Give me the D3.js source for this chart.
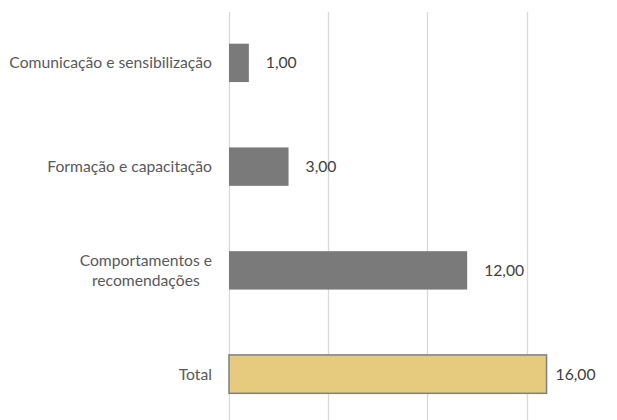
<!DOCTYPE html>
<html>
<head>
<meta charset="utf-8">
<script src="https://cdn.jsdelivr.net/npm/d3@7"></script>
<style>
  body { margin: 0; background: #fff; }
  svg { display: block; font-family: Lato, "Open Sans", sans-serif; }
</style>
</head>
<body>
<svg id="chart" width="617" height="420"></svg>
<script>
// Chart data
const categories = [
    ["Comunicação e sensibilização"],
    ["Formação e capacitação"],
    ["Comportamentos e", "recomendações"],
    ["Total"]
];
const values = [1, 3, 12, 16];
const valueLabels = ["1,00", "3,00", "12,00", "16,00"];
const gridTicks = [0, 5, 10, 15];

const fontSize = 15.7;
const svg = d3.select("#chart");

const x = d3.scaleLinear().domain([0, 15]).range([229, 526.7]);
const y = d3.scaleBand()
    .domain(d3.range(categories.length))
    .range([11, 426])
    .paddingInner(0.63)
    .paddingOuter(0.315);

// vertical gridlines
svg.append("g")
    .selectAll("line")
    .data(gridTicks)
    .join("line")
    .attr("x1", d => Math.round(x(d)) + 0.5)
    .attr("x2", d => Math.round(x(d)) + 0.5)
    .attr("y1", 12)
    .attr("y2", 430)
    .attr("stroke", "#d9d9d9")
    .attr("stroke-width", 1.3);

// bars
svg.append("g")
    .selectAll("rect")
    .data(values)
    .join("rect")
    .attr("x", x(0))
    .attr("y", (d, i) => y(i))
    .attr("width", d => x(d) - x(0))
    .attr("height", y.bandwidth())
    .attr("fill", (d, i) => i === values.length - 1 ? "#e6ca7e" : "#7a7a7a")
    .attr("stroke", (d, i) => i === values.length - 1 ? "#7f7f7f" : "none")
    .attr("stroke-width", 1.5);

// value labels
svg.append("g")
    .selectAll("text")
    .data(values)
    .join("text")
    .attr("x", (d, i) => x(d) + (i === values.length - 1 ? 9 : 17))
    .attr("y", (d, i) => y(i) + y.bandwidth() / 2)
    .attr("dy", "0.35em")
    .attr("fill", "#404040")
    .attr("font-size", fontSize)
    .text((d, i) => valueLabels[i]);

// category labels
const cat = svg.append("g")
    .selectAll("text")
    .data(categories)
    .join("text")
    .attr("text-anchor", "middle")
    .attr("fill", "#595959")
    .attr("font-size", fontSize)
    .attr("x", (d, i) => 212 - textWidth(d) / 2)
    .attr("y", (d, i) => y(i) + y.bandwidth() / 2);

cat.each(function(lines) {
    const t = d3.select(this);
    const n = lines.length;
    lines.forEach((line, j) => {
        t.append("tspan")
            .attr("x", t.attr("x"))
            .attr("dy", j === 0 ? (0.35 - (n - 1) * 0.65) + "em" : "1.3em")
            .text(line);
    });
});

function textWidth(lines) {
    const tmp = svg.append("text").attr("font-size", fontSize);
    let w = 0;
    lines.forEach(l => {
        tmp.text(l);
        w = Math.max(w, tmp.node().getComputedTextLength());
    });
    tmp.remove();
    return w;
}
</script>
</body>
</html>
